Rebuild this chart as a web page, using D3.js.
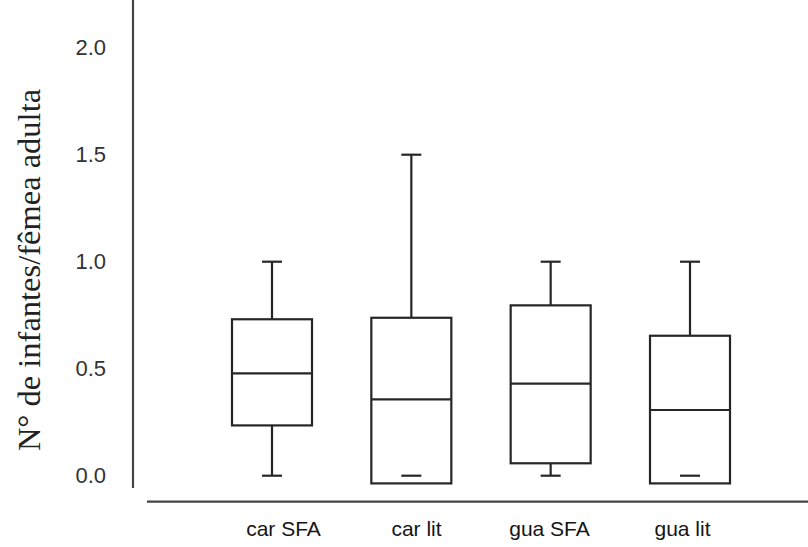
<!DOCTYPE html>
<html>
<head>
<meta charset="utf-8">
<script src="https://cdn.jsdelivr.net/npm/d3@7"></script>
<style>
  html, body { margin: 0; padding: 0; background: #fff; }
  svg { display: block; }
</style>
</head>
<body>
<svg id="chart" width="808" height="547"></svg>
<script>
// ---- data ----
const categories = ["car SFA", "car lit", "gua SFA", "gua lit"];
const whiskerLow  = [0.0, 0.0, 0.0, 0.0];
const q1          = [0.235, -0.036, 0.058, -0.036];
const median      = [0.478, 0.357, 0.430, 0.307];
const q3          = [0.731, 0.738, 0.796, 0.654];
const whiskerHigh = [1.0, 1.5, 1.0, 1.0];
const yTicks      = [0.0, 0.5, 1.0, 1.5, 2.0];
const yTitle = "N° de infantes/fêmea adulta";

const svg = d3.select("#chart");
const stroke = "#262626";

const y = d3.scaleLinear().domain([0, 2]).range([475.7, 47.7]);
const x = d3.scalePoint().domain(categories).range([272, 690]);
const xLab = d3.scalePoint().domain(categories).range([283, 682]);

const boxW = 80, capW = 20;

// axes lines
svg.append("line").attr("x1", 133).attr("x2", 133).attr("y1", 0).attr("y2", 488)
  .attr("stroke", "#444").attr("stroke-width", 2.2);
svg.append("line").attr("x1", 147).attr("x2", 808).attr("y1", 501.7).attr("y2", 501.7)
  .attr("stroke", "#444").attr("stroke-width", 2.2);

// y axis labels
const yAxis = d3.axisLeft(y).tickValues(yTicks).tickFormat(d3.format(".1f")).tickSize(0).tickPadding(27);
const gy = svg.append("g").attr("transform", "translate(133,0)").call(yAxis);
gy.select(".domain").remove();
gy.selectAll("text").attr("font-family", "Arial, 'Liberation Sans', sans-serif")
  .attr("font-size", 22).attr("fill", "#333");

// x axis labels
const xAxis = d3.axisBottom(xLab).tickSize(0).tickPadding(19);
const gx = svg.append("g").attr("transform", "translate(0,501.7)").call(xAxis);
gx.select(".domain").remove();
gx.selectAll("text").attr("font-family", "Arial, 'Liberation Sans', sans-serif")
  .attr("font-size", 21).attr("fill", "#151515");

// y title
svg.append("text")
  .attr("transform", "translate(40,270) rotate(-90)")
  .attr("text-anchor", "middle")
  .attr("font-family", "'Liberation Serif', 'Times New Roman', serif")
  .attr("font-size", 32.5).attr("fill", "#222")
  .text(yTitle);

// boxes
const data = categories.map((c, i) => ({
  c, lo: whiskerLow[i], q1: q1[i], med: median[i], q3: q3[i], hi: whiskerHigh[i]
}));

const g = svg.append("g").attr("stroke", stroke).attr("stroke-width", 2.2).attr("fill", "none");
data.forEach(d => {
  const cx = x(d.c);
  // upper whisker
  g.append("line").attr("x1", cx).attr("x2", cx).attr("y1", y(d.q3)).attr("y2", y(d.hi));
  g.append("line").attr("x1", cx - capW / 2).attr("x2", cx + capW / 2).attr("y1", y(d.hi)).attr("y2", y(d.hi));
  // lower whisker
  if (d.q1 > d.lo) {
    g.append("line").attr("x1", cx).attr("x2", cx).attr("y1", y(d.q1)).attr("y2", y(d.lo));
  }
  // box
  g.append("rect").attr("x", cx - boxW / 2).attr("width", boxW)
    .attr("y", y(d.q3)).attr("height", y(d.q1) - y(d.q3)).attr("fill", "#fff");
  // median
  g.append("line").attr("x1", cx - boxW / 2).attr("x2", cx + boxW / 2).attr("y1", y(d.med)).attr("y2", y(d.med));
  // lower cap (drawn after box so it stays visible inside it)
  g.append("line").attr("x1", cx - capW / 2).attr("x2", cx + capW / 2).attr("y1", y(d.lo)).attr("y2", y(d.lo));
});
</script>
</body>
</html>
